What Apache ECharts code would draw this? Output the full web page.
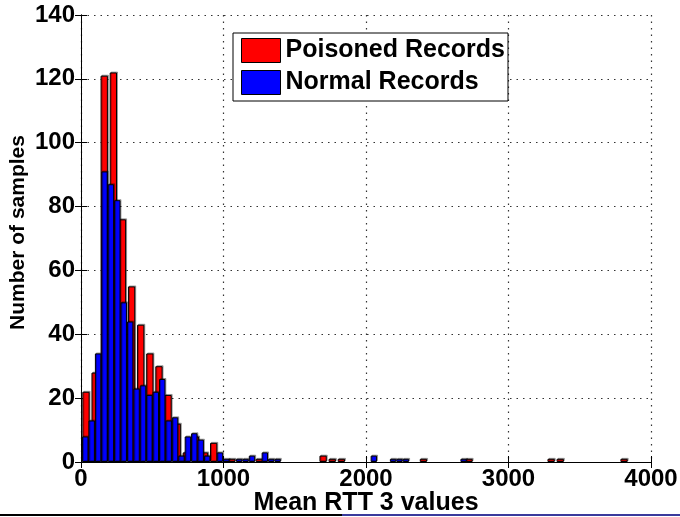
<!DOCTYPE html>
<html>
<head>
<meta charset="utf-8">
<script src="https://cdn.jsdelivr.net/npm/echarts@6/dist/echarts.min.js"></script>
<style>
html, body { margin: 0; padding: 0; background: #fff; }
#chart { width: 680px; height: 517px; }
</style>
</head>
<body>
<div id="chart"></div>
<script>
// histogram bins (only non-empty bins), x = bin centre
var poisonedCenters = [35, 99, 163, 227, 291, 355, 419, 483, 547, 611, 675, 739, 803, 867, 931,
  1059, 1251, 1699, 1763, 1827, 2403, 2723, 3299, 3363, 3811]
var poisonedCounts = [22, 28, 121, 122, 76, 55, 43, 34, 30, 21, 12, 3, 8, 3, 6,
  1, 1, 2, 1, 1, 1, 1, 1, 1, 1]
var normalCenters = [30, 75, 120, 165, 210, 255, 300, 345, 390, 435, 480, 525, 570, 615, 660,
  705, 750, 795, 840, 885, 975, 1020, 1110, 1155, 1200, 1290, 1335, 1380,
  2055, 2190, 2235, 2280, 2685]
var normalCounts = [8, 13, 34, 91, 87, 82, 50, 44, 23, 24, 21, 22, 26, 13, 14,
  2, 8, 9, 7, 2, 3, 1, 1, 1, 2, 3, 1, 1,
  2, 1, 1, 1, 1]
var xTicks = [0, 1000, 2000, 3000, 4000]
var yTicks = [0, 20, 40, 60, 80, 100, 120, 140]

var font = 'Liberation Sans, Arial, Helvetica, sans-serif'

function pairs(xs, ys) {
  var out = []
  for (var i = 0; i < xs.length; i++) {
    out.push([xs[i], ys[i]])
  }
  return out
}

var myChart = echarts.init(document.getElementById('chart'))

// matlab style dotted grid
var gridLine = {
  show: true,
  lineStyle: { color: '#333', type: [1.5, 5], width: 1.2 }
}

var option = {
  animation: false,
  backgroundColor: '#fff',
  grid: { left: 81, right: 29, top: 15, bottom: 55, outerBoundsMode: 'none' },
  legend: {
    left: 233,
    top: 33,
    orient: 'vertical',
    icon: 'rect',
    itemWidth: 39,
    itemHeight: 24,
    itemGap: 7,
    padding: [5, 3, 6, 8],
    borderColor: '#000',
    borderWidth: 1,
    backgroundColor: '#fff',
    itemStyle: { borderColor: '#000', borderWidth: 1 },
    textStyle: { color: '#000', fontFamily: font, fontWeight: 'bold', fontSize: 25, lineHeight: 24 },
    data: ['Poisoned Records', 'Normal Records']
  },
  xAxis: [
    {
      type: 'value',
      min: xTicks[0],
      max: xTicks[xTicks.length - 1],
      interval: 1000,
      name: 'Mean RTT 3 values',
      nameLocation: 'middle',
      nameGap: 29,
      nameMoveOverlap: false,
      nameTextStyle: { color: '#000', fontFamily: font, fontWeight: 'bold', fontSize: 25 },
      axisLine: { lineStyle: { color: '#000', width: 1 } },
      axisTick: { inside: true, length: 6, lineStyle: { color: '#000' } },
      axisLabel: {
        color: '#000', fontFamily: font, fontWeight: 'bold', fontSize: 24, margin: 5,
        formatter: function(v) { return String(v) }
      },
      splitLine: gridLine
    },
    {
      type: 'value',
      position: 'top',
      min: xTicks[0],
      max: xTicks[xTicks.length - 1],
      interval: 1000,
      axisLine: { lineStyle: { color: '#000', width: 1 } },
      axisTick: { inside: true, length: 6, lineStyle: { color: '#000' } },
      axisLabel: { show: false },
      splitLine: { show: false }
    }
  ],
  yAxis: [
    {
      type: 'value',
      min: yTicks[0],
      max: yTicks[yTicks.length - 1],
      interval: 20,
      name: 'Number of samples',
      nameLocation: 'middle',
      nameGap: 52,
      nameMoveOverlap: false,
      nameTextStyle: { color: '#000', fontFamily: font, fontWeight: 'bold', fontSize: 21, padding: [0, 0, 0, 12] },
      axisLine: { show: true, lineStyle: { color: '#000', width: 1 } },
      axisTick: { show: true, inside: true, length: 6, lineStyle: { color: '#000' } },
      axisLabel: { color: '#000', fontFamily: font, fontWeight: 'bold', fontSize: 24, margin: 6 },
      splitLine: gridLine
    },
    {
      type: 'value',
      position: 'right',
      min: yTicks[0],
      max: yTicks[yTicks.length - 1],
      interval: 20,
      axisLine: { show: true, lineStyle: { color: '#000', width: 1 } },
      axisTick: { show: true, inside: true, length: 6, lineStyle: { color: '#000' } },
      axisLabel: { show: false },
      splitLine: { show: false }
    }
  ],
  series: [
    {
      name: 'Poisoned Records',
      type: 'bar',
      xAxisIndex: 0,
      yAxisIndex: 0,
      barWidth: 7.3,
      itemStyle: {
        color: '#ff0000', borderColor: '#000', borderWidth: 1,
        shadowColor: 'rgba(0,0,0,0.3)', shadowOffsetX: 1, shadowOffsetY: -1
      },
      data: pairs(poisonedCenters, poisonedCounts)
    },
    {
      name: 'Normal Records',
      type: 'bar',
      xAxisIndex: 1,
      yAxisIndex: 0,
      barWidth: 6.4,
      itemStyle: {
        color: '#0000ff', borderColor: '#000', borderWidth: 1,
        shadowColor: 'rgba(0,0,0,0.3)', shadowOffsetX: 1, shadowOffsetY: -1
      },
      data: pairs(normalCenters, normalCounts)
    }
  ],
  graphic: [
    { type: 'line', shape: { x1: 0, y1: 515, x2: 342, y2: 515 }, style: { stroke: '#000', lineWidth: 2 }, z: 100 },
    { type: 'line', shape: { x1: 342, y1: 515, x2: 680, y2: 515 }, style: { stroke: '#3a3a9c', lineWidth: 2 }, z: 100 }
  ]
}

myChart.setOption(option)
window.addEventListener('resize', function() {
  myChart.resize()
})
</script>
</body>
</html>
